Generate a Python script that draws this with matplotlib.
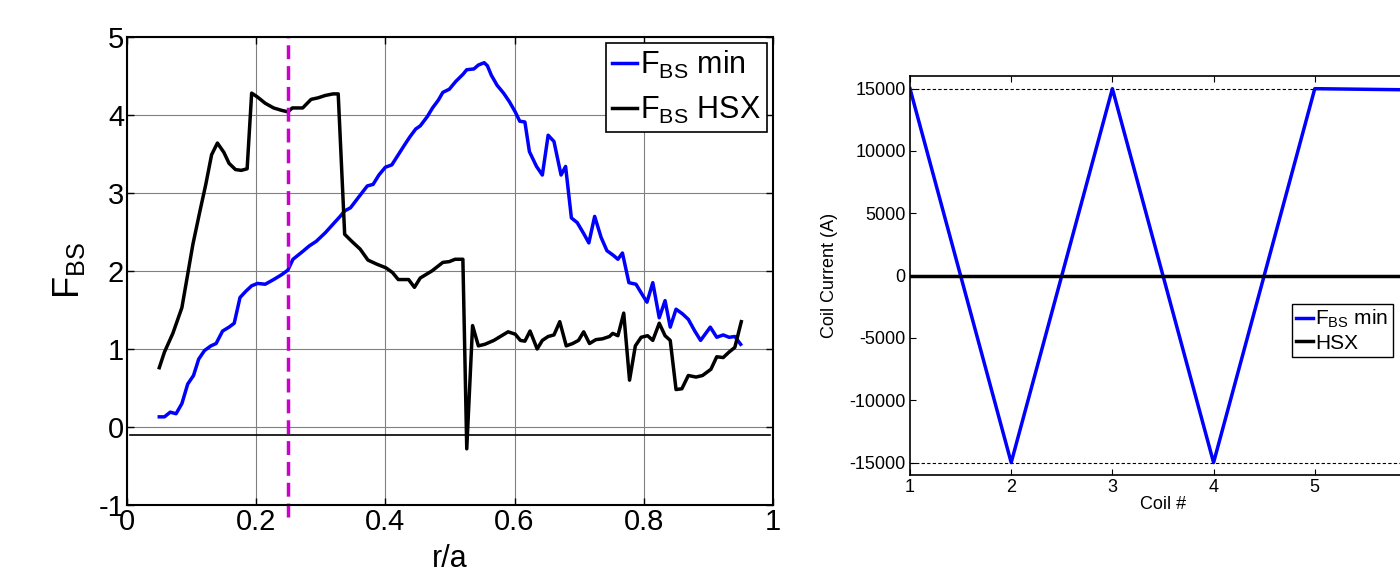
import matplotlib.pyplot as plt

plt.rcParams['font.family'] = ['Liberation Sans', 'DejaVu Sans']
plt.rcParams['mathtext.fontset'] = 'custom'
plt.rcParams['mathtext.rm'] = 'Liberation Sans'
plt.rcParams['axes.unicode_minus'] = False

# left panel: F_BS profiles vs r/a
r_min = [0.050, 0.058, 0.067, 0.076, 0.085, 0.094, 0.103, 0.111, 0.120, 0.130,
         0.138, 0.148, 0.158, 0.166, 0.175, 0.184, 0.193, 0.202, 0.214, 0.227,
         0.239, 0.249, 0.257, 0.272, 0.282, 0.293, 0.307, 0.319, 0.330, 0.337,
         0.346, 0.358, 0.372, 0.381, 0.390, 0.400, 0.410, 0.420, 0.430, 0.438,
         0.447, 0.454, 0.465, 0.473, 0.482, 0.489, 0.499, 0.509, 0.520, 0.526,
         0.537, 0.544, 0.553, 0.558, 0.564, 0.573, 0.583, 0.592, 0.601, 0.608,
         0.616, 0.623, 0.634, 0.643, 0.652, 0.661, 0.672, 0.679, 0.688, 0.697,
         0.707, 0.715, 0.724, 0.734, 0.743, 0.753, 0.760, 0.767, 0.777, 0.788,
         0.796, 0.805, 0.814, 0.824, 0.833, 0.841, 0.850, 0.860, 0.869, 0.879,
         0.888, 0.903, 0.913, 0.923, 0.932, 0.941, 0.950]
f_min = [0.13, 0.13, 0.19, 0.17, 0.30, 0.55, 0.66, 0.87, 0.98, 1.04,
         1.07, 1.23, 1.28, 1.33, 1.66, 1.74, 1.81, 1.84, 1.83, 1.89,
         1.95, 2.01, 2.15, 2.25, 2.32, 2.38, 2.49, 2.60, 2.70, 2.77,
         2.81, 2.94, 3.09, 3.11, 3.23, 3.33, 3.36, 3.49, 3.62, 3.72,
         3.82, 3.86, 3.98, 4.09, 4.19, 4.29, 4.33, 4.43, 4.52, 4.58,
         4.59, 4.64, 4.67, 4.63, 4.51, 4.38, 4.28, 4.17, 4.04, 3.92,
         3.91, 3.53, 3.34, 3.23, 3.74, 3.66, 3.23, 3.34, 2.68, 2.62,
         2.48, 2.36, 2.70, 2.43, 2.26, 2.20, 2.15, 2.23, 1.85, 1.83,
         1.72, 1.60, 1.85, 1.40, 1.62, 1.28, 1.51, 1.45, 1.38, 1.23,
         1.11, 1.28, 1.15, 1.18, 1.15, 1.16, 1.06]

r_hsx = [0.050, 0.058, 0.071, 0.085, 0.093, 0.102, 0.113, 0.122, 0.131, 0.140,
         0.150, 0.158, 0.168, 0.177, 0.186, 0.193, 0.202, 0.214, 0.227, 0.239,
         0.249, 0.256, 0.272, 0.285, 0.296, 0.307, 0.319, 0.327, 0.337, 0.348,
         0.361, 0.373, 0.386, 0.401, 0.411, 0.420, 0.436, 0.445, 0.454, 0.472,
         0.489, 0.499, 0.508, 0.516, 0.520, 0.526, 0.535, 0.544, 0.554, 0.568,
         0.580, 0.590, 0.601, 0.609, 0.616, 0.624, 0.635, 0.643, 0.652, 0.661,
         0.670, 0.680, 0.690, 0.699, 0.707, 0.716, 0.726, 0.736, 0.747, 0.752,
         0.760, 0.769, 0.778, 0.787, 0.796, 0.806, 0.814, 0.824, 0.833, 0.841,
         0.850, 0.859, 0.869, 0.881, 0.891, 0.904, 0.913, 0.923, 0.932, 0.941,
         0.951]
f_hsx = [0.76, 0.96, 1.20, 1.53, 1.91, 2.34, 2.77, 3.11, 3.49, 3.64,
         3.52, 3.38, 3.30, 3.29, 3.31, 4.28, 4.23, 4.15, 4.09, 4.06,
         4.04, 4.09, 4.09, 4.20, 4.22, 4.25, 4.27, 4.27, 2.47, 2.38,
         2.28, 2.14, 2.09, 2.04, 1.98, 1.89, 1.89, 1.79, 1.91, 2.00,
         2.11, 2.12, 2.15, 2.15, 2.15, -0.28, 1.30, 1.04, 1.06, 1.11,
         1.17, 1.22, 1.19, 1.11, 1.10, 1.23, 1.00, 1.11, 1.16, 1.18,
         1.35, 1.04, 1.07, 1.11, 1.22, 1.07, 1.12, 1.13, 1.16, 1.20,
         1.17, 1.46, 0.60, 1.04, 1.15, 1.17, 1.11, 1.33, 1.17, 1.11,
         0.48, 0.49, 0.66, 0.64, 0.66, 0.74, 0.90, 0.89, 0.96, 1.02,
         1.35]

r_marker = 0.25
f_offset = -0.1

# right panel: coil currents
coil = [1, 2, 3, 4, 5, 6]
i_min = [15000, -15000, 15000, -15000, 15000, 14900]
i_hsx = [0, 0, 0, 0, 0, 0]

fig = plt.figure(figsize=(14, 5.73), dpi=100)

ax = fig.add_axes([0.0907, 0.1187, 0.4614, 0.8168])
ax.grid(True, color='#808080', linewidth=0.8)
ax.plot(r_min, f_min, color='blue', linewidth=2.5, label=r'$\mathregular{F_{BS}}$ min')
ax.plot(r_hsx, f_hsx, color='black', linewidth=2.5, label=r'$\mathregular{F_{BS}}$ HSX')
ax.plot([0.005, 0.995], [f_offset, f_offset], color='black', linewidth=1.2)
ax.plot([r_marker, r_marker], [-1.15, 5], color='#cc00cc', linewidth=2.5,
        linestyle=(0, (4, 2)), clip_on=False)
ax.set_xlim(0, 1)
ax.set_ylim(-1, 5)
ax.set_xticks([0, 0.2, 0.4, 0.6, 0.8, 1])
ax.set_xticklabels(['0', '0.2', '0.4', '0.6', '0.8', '1'])
ax.set_yticks(range(-1, 6))
ax.tick_params(direction='in', top=True, right=True, labelsize=21, pad=2,
               length=5, width=1)
for s in ax.spines.values():
    s.set_linewidth(1.5)
ax.set_xlabel('r/a', fontsize=22, labelpad=6)
ax.set_ylabel(r'$\mathregular{F_{BS}}$', fontsize=26, labelpad=8)
ax.legend(loc='upper right', fontsize=22, handlelength=0.8, handletextpad=0.1,
          borderpad=0.2, labelspacing=0.45, borderaxespad=0.2, fancybox=False,
          edgecolor='black', framealpha=1)
ax.get_legend().get_frame().set_linewidth(1.2)

ax2 = fig.add_axes([0.65, 0.171, 0.3614, 0.696])
ax2.axhline(15000, color='black', linewidth=0.8, linestyle=(0, (3, 2)))
ax2.axhline(-15000, color='black', linewidth=0.8, linestyle=(0, (3, 2)))
ax2.plot(coil, i_min, color='blue', linewidth=2.5, label=r'$\mathregular{F_{BS}}$ min')
ax2.plot(coil, i_hsx, color='black', linewidth=2.5, label='HSX')
ax2.set_xlim(1, 6)
ax2.set_ylim(-16000, 16000)
ax2.set_xticks(coil)
ax2.set_yticks([-15000, -10000, -5000, 0, 5000, 10000, 15000])
ax2.tick_params(direction='in', top=True, labelsize=13, pad=3, length=4)
for s in ax2.spines.values():
    s.set_linewidth(1.2)
ax2.set_xlabel('Coil #', fontsize=13, labelpad=0)
ax2.set_ylabel('Coil Current (A)', fontsize=13, labelpad=8)
ax2.legend(loc='upper left', bbox_to_anchor=(0.735, 0.455), fontsize=15,
           handlelength=0.8, handletextpad=0.1, borderpad=0.2,
           labelspacing=0.15, fancybox=False, edgecolor='black', framealpha=1)

fig.savefig('out.png', dpi=100)
